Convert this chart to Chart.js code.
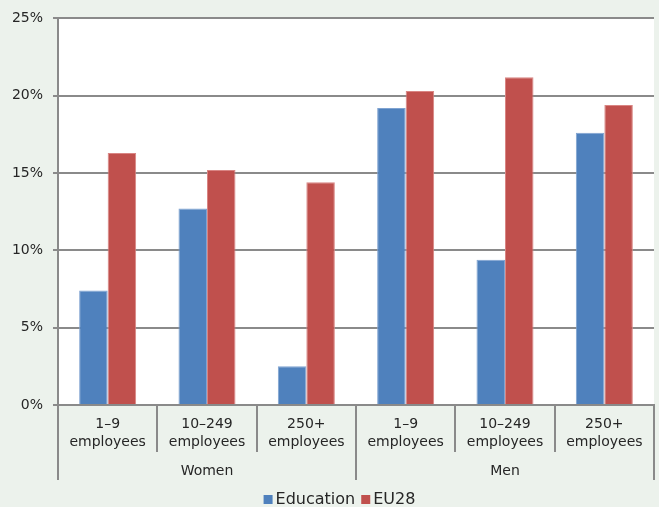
<!DOCTYPE html>
<html>
<head>
<meta charset="utf-8">
<script src="https://cdn.jsdelivr.net/npm/chart.js@4/dist/chart.umd.min.js"></script>
<style>
  html, body { margin: 0; padding: 0; background: #ECF2EC; }
  #wrap { width: 659px; height: 507px; }
</style>
</head>
<body>
<div id="wrap"><canvas id="chart" width="659" height="507"></canvas></div>
<script>
// ---------- Data ----------
const sizes = [
  ["1–9", "employees"], ["10–249", "employees"], ["250+", "employees"],
  ["1–9", "employees"], ["10–249", "employees"], ["250+", "employees"],
];
const groups = ["Women", "Men"];
const education = [7.4, 12.7, 2.5, 19.2, 9.4, 17.6];
const eu28 = [16.3, 15.2, 14.4, 20.3, 21.2, 19.4];
const yTicks = [0, 5, 10, 15, 20, 25];

const GRID = "#8A8A8A";
const TEXT = "#262626";
const FONT = "'DejaVu Sans', Verdana, sans-serif";

// white plot area
const plotBg = {
  id: "plotBg",
  beforeDraw(chart) {
    const { ctx, chartArea: a } = chart;
    ctx.save();
    ctx.fillStyle = "#FFFFFF";
    ctx.fillRect(a.left, a.top, a.right - a.left, a.bottom - a.top);
    ctx.restore();
  },
};

// group row (Women / Men) under the size labels
const groupAxis = {
  id: "groupAxis",
  afterDraw(chart) {
    const { ctx } = chart;
    const x = chart.scales.x;
    const per = sizes.length / groups.length;
    const step = (x.right - x.left) / sizes.length;
    ctx.save();
    ctx.strokeStyle = GRID;
    ctx.lineWidth = 2;
    for (let g = 0; g <= groups.length; g++) {
      const bx = Math.round(x.left + g * per * step);
      ctx.beginPath();
      ctx.moveTo(bx, x.top);
      ctx.lineTo(bx, x.top + 75);
      ctx.stroke();
    }
    ctx.fillStyle = TEXT;
    ctx.font = "14px " + FONT;
    ctx.textAlign = "center";
    ctx.textBaseline = "middle";
    groups.forEach((name, g) => {
      ctx.fillText(name, x.left + (g + 0.5) * per * step, x.top + 66);
    });
    ctx.restore();
  },
};

// compact legend like the original (small squares, tight spacing)
const smallLegend = {
  id: "smallLegend",
  afterDraw(chart) {
    const { ctx } = chart;
    const sets = chart.data.datasets;
    ctx.save();
    ctx.font = "16px " + FONT;
    ctx.textBaseline = "middle";
    const box = 9, gapText = 3, gapItem = 6;
    const widths = sets.map((d) => box + gapText + ctx.measureText(d.label).width);
    const total = widths.reduce((a, b) => a + b, 0) + gapItem * (sets.length - 1);
    let cx = chart.width / 2 + 10 - total / 2;
    const cy = chart.height - 7;
    sets.forEach((d, i) => {
      ctx.fillStyle = d.backgroundColor;
      ctx.fillRect(cx, cy - 5, box, box);
      ctx.fillStyle = TEXT;
      ctx.fillText(d.label, cx + box + gapText, cy);
      cx += widths[i] + gapItem;
    });
    ctx.restore();
  },
};

new Chart(document.getElementById("chart"), {
  type: "bar",
  data: {
    labels: sizes,
    datasets: [
      { label: "Education", data: education, backgroundColor: "#4F81BD", borderColor: "#7FA3D1", borderWidth: 1 },
      { label: "EU28", data: eu28, backgroundColor: "#C0504D", borderColor: "#D98583", borderWidth: 1 },
    ],
  },
  options: {
    responsive: false,
    animation: false,
    devicePixelRatio: 1,
    layout: { padding: { left: 0, right: 5, top: 18, bottom: 20 } },
    datasets: { bar: { barPercentage: 1, categoryPercentage: 0.574 } },
    plugins: {
      legend: { display: false },
      tooltip: { enabled: false },
    },
    scales: {
      x: {
        offset: true,
        grid: { offset: true, drawOnChartArea: false, tickLength: 47, color: GRID, lineWidth: 2 },
        border: { color: GRID, width: 2 },
        ticks: { color: TEXT, font: { family: FONT, size: 14, lineHeight: 1.25 }, padding: -36, maxRotation: 0, autoSkip: false },
        afterFit(s) { s.height = 82; },
      },
      y: {
        min: 0,
        max: 25,
        afterBuildTicks(s) { s.ticks = yTicks.map((v) => ({ value: v })); },
        grid: { color: GRID, lineWidth: 2, tickLength: 5 },
        border: { color: GRID, width: 2 },
        ticks: { color: TEXT, padding: 10, font: { family: FONT, size: 14 }, callback: (v) => v + "%" },
        afterFit(s) { s.width = 58; },
      },
    },
  },
  plugins: [plotBg, groupAxis, smallLegend],
});
</script>
</body>
</html>
